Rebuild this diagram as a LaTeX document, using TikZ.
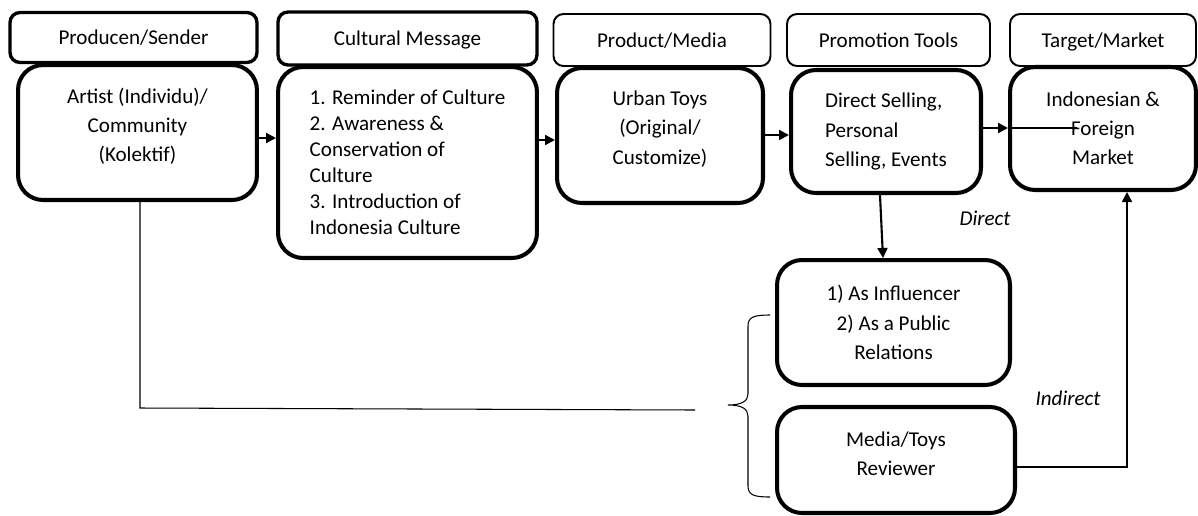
\documentclass[tikz,border=0pt]{standalone}
\usepackage{fontspec}
\setmainfont{Carlito}
\usetikzlibrary{positioning, shapes, arrows.meta}

\begin{document}
\begin{tikzpicture}[x=0.02cm, y=-0.02cm,
  font=\fontsize{12}{16.6}\selectfont,
  headbox/.style={draw, rounded corners=0.2cm, line width=1.1pt, inner sep=0pt,
    text height=1.05em, text depth=0.22em},
  headthick/.style={headbox, line width=1.9pt},
  mainbox/.style={draw, rounded corners=0.5cm, line width=2.3pt, inner sep=0pt},
  arrow/.style={-{Triangle[length=0.2cm, width=0.2cm]}, line width=1.2pt},
  thinline/.style={line width=0.6pt}]
  \useasboundingbox (0,0) rectangle (1198,515);
  % header row
  \node[headthick, minimum width=4.94cm, minimum height=1cm] (h1) at (133.5, 37.5) {Producen/Sender};
  \node[headthick, minimum width=5.18cm, minimum height=1.06cm] (h2) at (407.5, 38.5) {Cultural Message};
  \node[headbox, minimum width=4.34cm, minimum height=1.04cm] (h3) at (662, 40) {Product/Media};
  \node[headbox, minimum width=4.06cm, minimum height=1.04cm] (h4) at (888.5, 40) {Promotion Tools};
  \node[headbox, minimum width=3.72cm, minimum height=1.04cm] (h5) at (1103, 40) {Target/Market};
  % main boxes
  \node[mainbox, minimum width=4.78cm, minimum height=2.7cm] (c1) at (137.5, 132.5) {};
  \node[align=center] (t1) at (137.5, 126) {Artist (Individu)/\\Community\\(Kolektif)};
  \node[mainbox, minimum width=5.18cm, minimum height=3.82cm, align=left,
    font=\fontsize{12}{14.8}\selectfont] (c2) at (407.5, 162.5)
    {1. Reminder of Culture\\2. Awareness \&\\Conservation of\\Culture\\3. Introduction of\\Indonesia Culture};
  \node[mainbox, minimum width=4.12cm, minimum height=2.7cm] (c3) at (660, 135.5) {};
  \node[align=center] (t3) at (660, 129) {Urban Toys\\(Original/\\Customize)};
  \node[mainbox, minimum width=3.8cm, minimum height=2.46cm, align=left] (c4) at (886, 131.5)
    {Direct Selling,\\Personal\\Selling, Events};
  \node[mainbox, minimum width=3.72cm, minimum height=2.46cm, align=center] (c5) at (1103, 128.5)
    {Indonesian \&\\Foreign\\Market};
  \node[mainbox, minimum width=4.66cm, minimum height=2.5cm, align=center] (c6) at (893.5, 322.5)
    {1) As Influencer\\2) As a Public\\Relations};
  \node[mainbox, minimum width=4.76cm, minimum height=2.12cm] (c7) at (896, 460) {};
  \node[align=center] (t7) at (896, 454) {Media/Toys\\Reviewer};
  % labels
  \node (lbldirect) at (985, 218) {\itshape Direct};
  \node (lblindirect) at (1068, 398) {\itshape Indirect};
  % free ends
  \coordinate (strike) at (1077, 128);
  \coordinate (turn) at (1127, 467);
  \coordinate (bend) at (140, 408);
  \coordinate (gapend) at (695, 410);
  % connectors
  \draw[arrow] (c1.east |- 0,138) -- (c2.west |- 0,138);
  \draw[arrow] (c2.east |- 0,140) -- (c3.west |- 0,140);
  \draw[arrow] (c3.east |- 0,135) -- (c4.west |- 0,135);
  \draw[arrow] (c4.east |- 0,128) -- (c5.west |- 0,128);
  \draw[thinline] (c5.west |- 0,128) -- (strike);
  \draw[arrow] ([xshift=-0.12cm]c4.south) -- ([xshift=-0.21cm]c6.north);
  \draw[arrow, line width=0.9pt] (c7.east |- 0,467) -- (turn) -- (turn |- c5.south);
  \draw[thinline] (c1.south -| bend) -- (bend) -- (gapend);
  % brace
  \draw[thinline] (770,315) .. controls (754,315) and (748,317) .. (748,326) -- (748,394)
    .. controls (748,401) and (742,405) .. (728,405)
    .. controls (742,405) and (748,409) .. (748,416) -- (748,486)
    .. controls (748,495) and (754,497) .. (770,497);
\end{tikzpicture}
\end{document}
